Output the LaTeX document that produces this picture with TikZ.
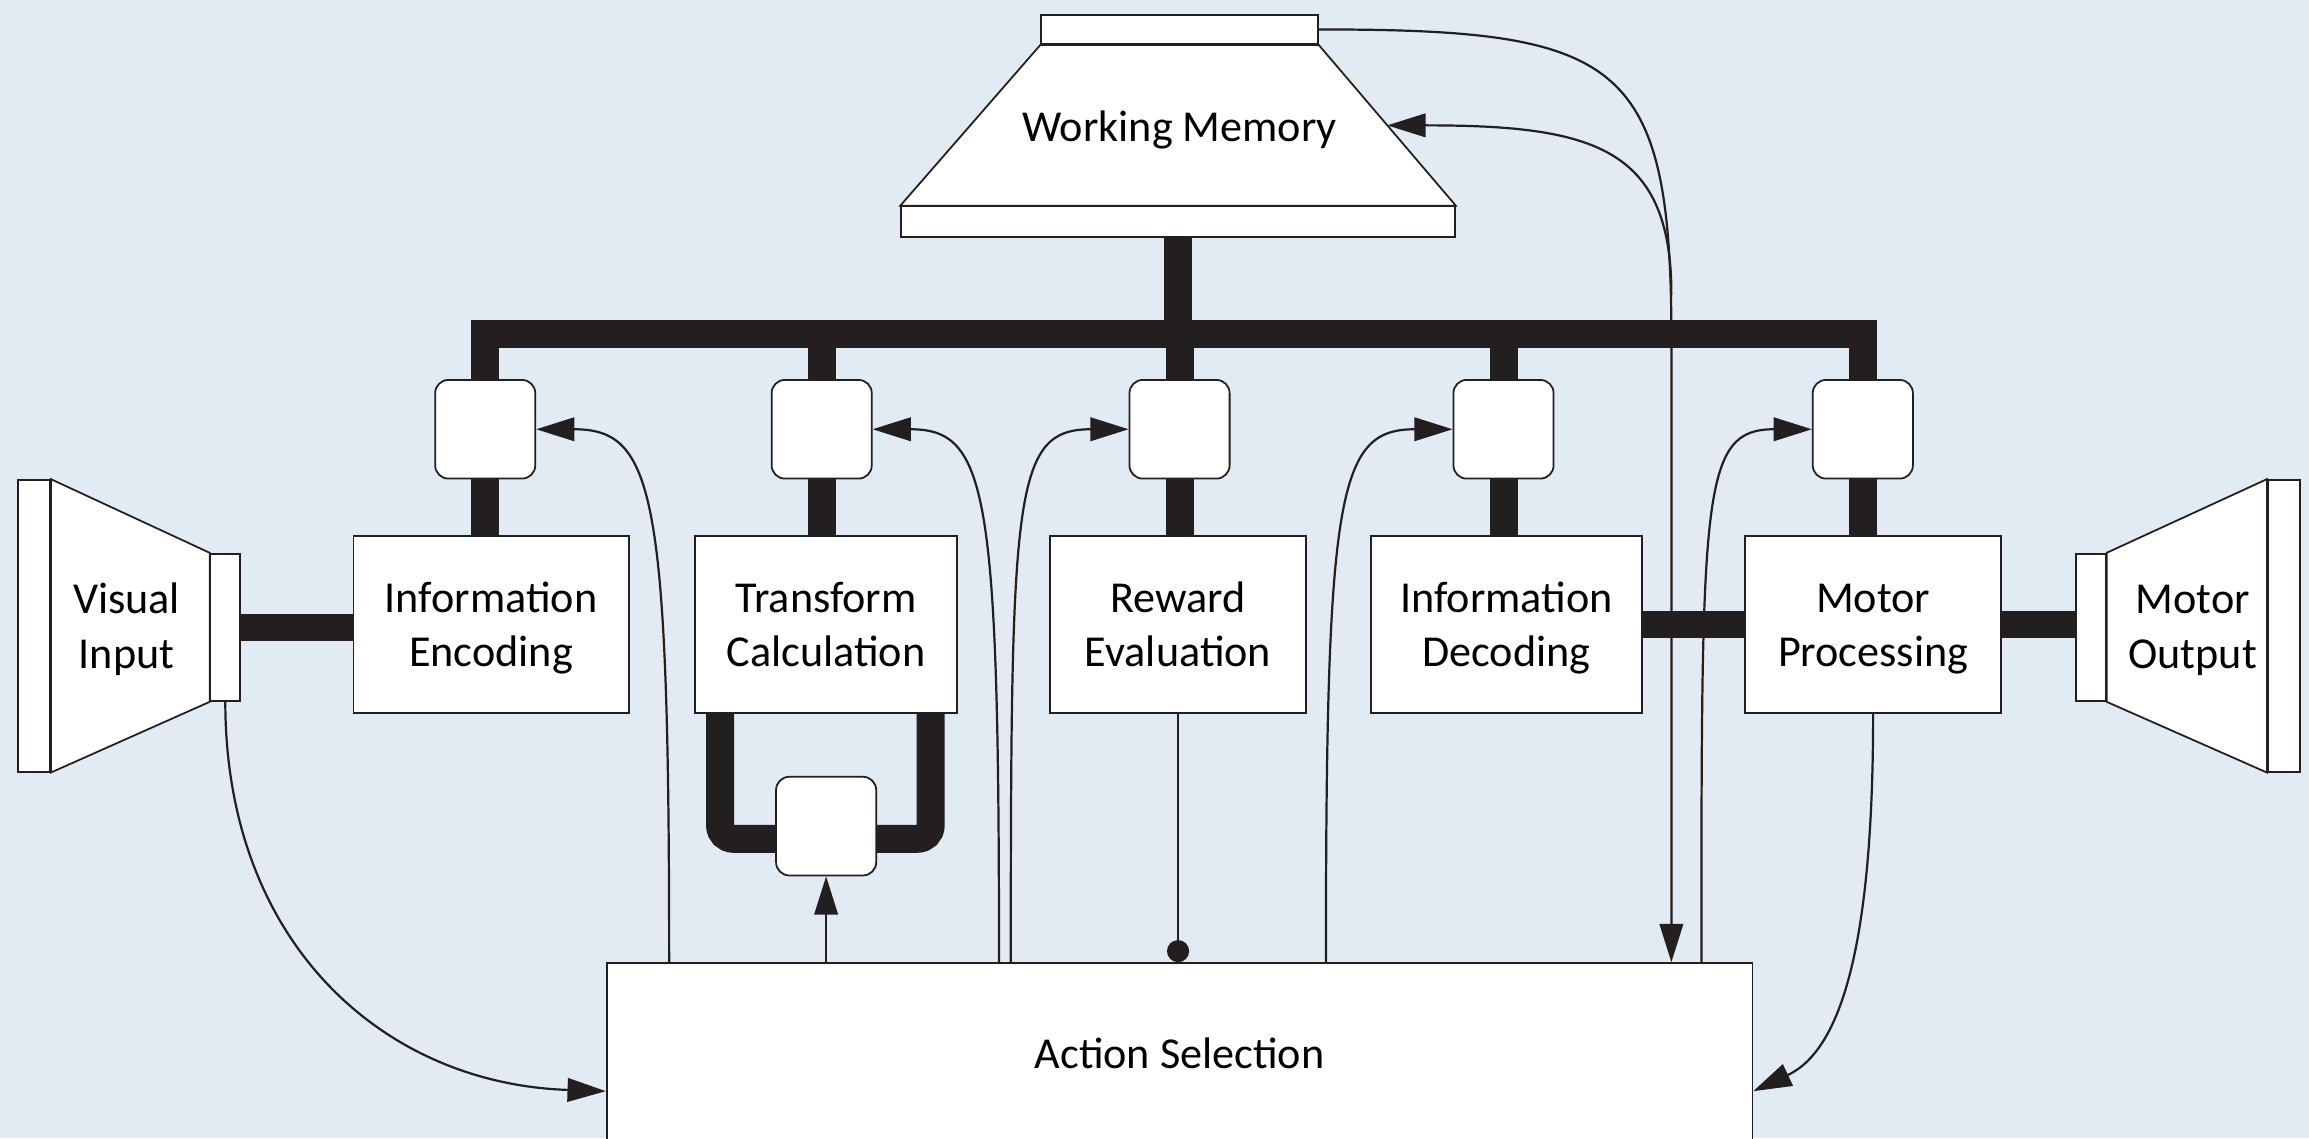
\documentclass[tikz,border=0pt]{standalone}
\usepackage{fontspec}
\setmainfont{Carlito}
\usetikzlibrary{arrows.meta,calc}
\pgfdeclarelayer{background}
\pgfsetlayers{background,main}
\definecolor{paper}{RGB}{226,234,244}
\definecolor{ink}{RGB}{35,31,32}
\newcommand{\figfont}{\fontsize{30}{37}\selectfont}
\newcommand{\tstrut}{\rule{0pt}{31.9pt}}
\tikzset{
  box/.style={draw=ink, fill=white, line width=1.2pt, inner sep=0pt, align=center, font=\figfont, minimum height=120pt},
  gate/.style={draw=ink, fill=white, line width=1.2pt, rounded corners=9pt, minimum width=68pt, minimum height=67pt, inner sep=0pt},
  bar/.style={draw=ink, fill=white, line width=1.2pt, inner sep=0pt},
  lbl/.style={align=center, font=\figfont, inner sep=0pt},
  pipe/.style={draw=ink, line width=19pt},
  hpipe/.style={draw=ink, line width=18pt},
  wire/.style={draw=ink, line width=1.5pt},
  arr/.style={wire, -{Triangle[length=26pt,width=16pt]}},
  dotend/.style={wire, -{Circle[length=15pt,width=15pt]}},
  funnel/.style={draw=ink, fill=white, line width=1.2pt, line join=miter}
}
\begin{document}
\begin{tikzpicture}[x=1pt, y=-1pt]
\useasboundingbox (0,0) rectangle (1568,773);
\clip (0,0) rectangle (1568,773);

% ---------- main boxes ----------
\node[box, minimum width=187pt] (ie) at (333.5,424) {\tstrut Information\\\strut Encoding};
\node[box, minimum width=178pt] (tc) at (561,424) {\tstrut Transform\\\strut Calculation};
\node[box, minimum width=174pt] (re) at (800,424) {\tstrut Reward\\\strut Evaluation};
\node[box, minimum width=184pt] (id) at (1023,424) {\tstrut Information\\\strut Decoding};
\node[box, minimum width=174pt] (mp) at (1272,424) {\tstrut Motor\\\strut Processing};

% ---------- gates ----------
\node[gate] (g1) at (329.5,291.5) {};
\node[gate] (g2) at (558,291.5) {};
\node[gate] (g3) at (801,291.5) {};
\node[gate] (g4) at (1021,291.5) {};
\node[gate] (g5) at (1265,291.5) {};
\node[gate] (g6) at (561,561) {};

% ---------- action selection ----------
\node[box, minimum width=778pt, minimum height=122pt] (as) at (801,715) {\tstrut\strut Action Selection};

% ---------- working memory ----------
\node[bar, minimum width=188pt, minimum height=20pt] (wmtop) at (801,20) {};
\node[bar, minimum width=376pt, minimum height=20.5pt] (wmbot) at (800,150.5) {};
\draw[funnel] (wmtop.south west) -- (wmtop.south east) -- (wmbot.north east) -- (wmbot.north west) -- cycle;
\node[lbl] (wm) at (801,86) {\tstrut\strut Working Memory};
\coordinate (wmside) at ($(wmtop.south east)!0.5!(wmbot.north east)$);

% ---------- visual input ----------
\node[bar, minimum width=22pt, minimum height=198pt] (vil) at (23,425) {};
\node[bar, minimum width=20pt, minimum height=100pt] (vis) at (153,426) {};
\draw[funnel] (vil.north east) -- (vis.north west) -- (vis.south west) -- (vil.south east) -- cycle;
\node[lbl] (vi) at (86,425) {\tstrut Visual\\\strut Input};

% ---------- motor output ----------
\node[bar, minimum width=20pt, minimum height=100pt] (mos) at (1420,426) {};
\node[bar, minimum width=22pt, minimum height=198pt] (mol) at (1551,425) {};
\draw[funnel] (mos.north east) -- (mol.north west) -- (mol.south west) -- (mos.south east) -- cycle;
\node[lbl] (mo) at (1489,425) {\tstrut Motor\\\strut Output};

% ---------- thick pipes (behind) ----------
\coordinate (busL) at (329.5,227);
\coordinate (busR) at (1265,227);
\begin{pgfonlayer}{background}
\fill[paper] (0,0) rectangle (1568,773);
\draw[pipe] (g1.north) -- (busL) -- (busR) -- (g5.north);
\draw[pipe] (g2.north) -- (g2.north |- busL);
\draw[pipe] (g3.north) -- (g3.north |- busL);
\draw[pipe] (g4.north) -- (g4.north |- busL);
\draw[pipe] (wmbot.south) -- (wmbot.south |- busL);
\draw[pipe] (g1.south) -- (g1.south |- ie.north);
\draw[pipe] (g2.south) -- (g2.south |- tc.north);
\draw[pipe] (g3.south) -- (g3.south |- re.north);
\draw[pipe] (g4.south) -- (g4.south |- id.north);
\draw[pipe] (g5.south) -- (g5.south |- mp.north);
\draw[hpipe] (vis.east) -- (vis.east -| ie.west);
\draw[hpipe] (id.east) -- (id.east -| mp.west);
\draw[hpipe] (mp.east) -- (mp.east -| mos.west);
\draw[pipe, rounded corners=9pt] ($(tc.south)+(-72,0)$) -- ($(tc.south)+(-72,85)$) -- ($(tc.south)+(71,85)$) -- ($(tc.south)+(71,0)$);
\end{pgfonlayer}

% ---------- thin connectors ----------
\draw[arr] (as.north -| g6) -- (g6.south);
\draw[dotend] (re.south) -- (re.south |- as.north);
\draw[arr] ($(as.north west)+(43,0)$) .. controls +(0,-320) and +(80,0) .. (g1.east);
\draw[arr] ($(as.north west)+(267,0)$) .. controls +(0,-320) and +(78,0) .. (g2.east);
\draw[arr] ($(as.north west)+(275,0)$) .. controls +(0,-320) and +(-78,0) .. (g3.west);
\draw[arr] ($(as.north west)+(489,0)$) .. controls +(0,-320) and +(-78,0) .. (g4.west);
\draw[arr] ($(as.north west)+(744,0)$) .. controls +(0,-320) and +(-75,0) .. (g5.west);
\coordinate (wmj) at (1135,230);
\coordinate (wmk) at (1135,200);
\draw[arr] (wmtop.east) .. controls +(205,0) and +(0,-190) .. (wmj) -- (wmj |- as.north);
\draw[arr] (wmk) .. controls +(0,-100) and +(140,0) .. (wmside);
\draw[arr] (vis.south) .. controls +(0,164) and +(-151,-5) .. ([yshift=-26pt]as.west);
\draw[arr] (mp.south) .. controls +(0,156) and +(60,-28) .. ([yshift=-26pt]as.east);
\end{tikzpicture}
\end{document}
